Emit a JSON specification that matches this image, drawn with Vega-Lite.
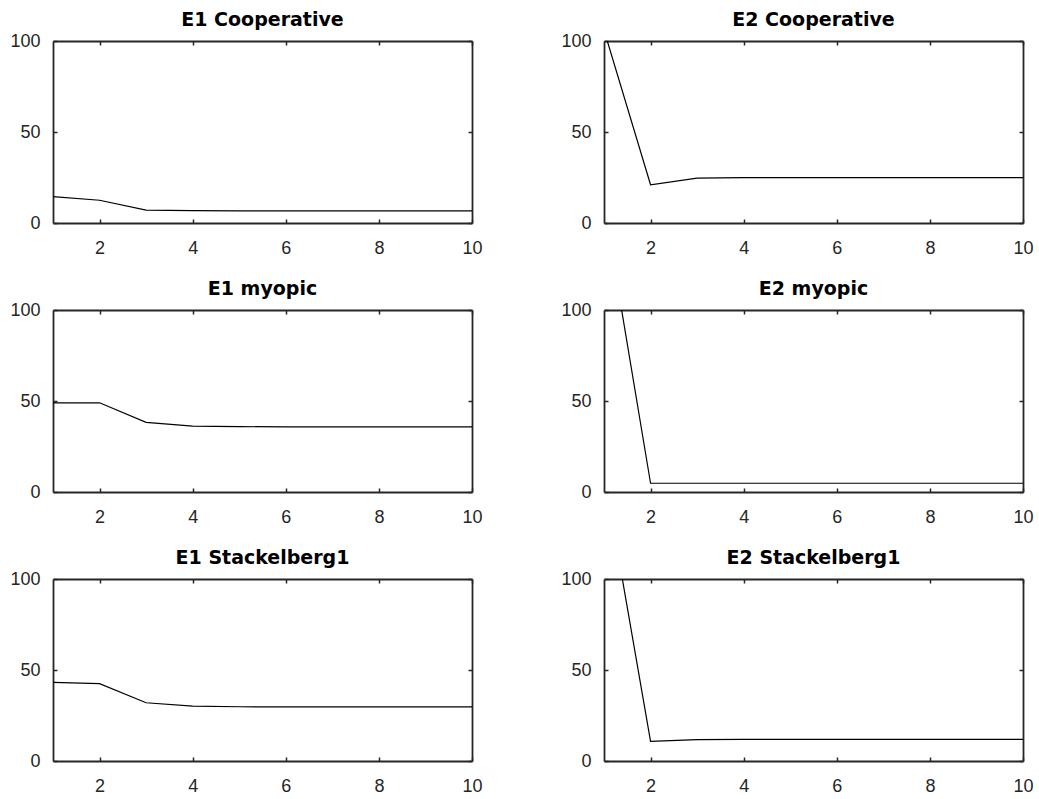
{
  "$schema": "https://vega.github.io/schema/vega-lite/v6.json",
  "background": "white",
  "padding": {"left": 9, "top": 11, "right": 5, "bottom": 5},
  "bounds": "flush",
  "spacing": {"row": 87, "column": 132},
  "columns": 2,
  "config": {
    "view": {"stroke": null},
    "font": "Liberation Sans",
    "axis": {
      "domainColor": "#262626",
      "domainWidth": 1.8,
      "tickColor": "#262626",
      "tickWidth": 1.5,
      "tickSize": -4,
      "grid": false,
      "title": null,
      "labelFont": "Liberation Sans",
      "labelFontSize": 18,
      "labelColor": "#262626",
      "labelFlush": false,
      "labelOverlap": false
    },
    "title": {"font": "DejaVu Sans", "fontSize": 19, "fontWeight": "bold", "color": "#000000", "offset": 2}
  },
  "data": {"values": [
    {"panel": "E1 Cooperative", "x": 1, "y": 14.5},
    {"panel": "E1 Cooperative", "x": 2, "y": 12.5},
    {"panel": "E1 Cooperative", "x": 3, "y": 7.1},
    {"panel": "E1 Cooperative", "x": 4, "y": 6.8},
    {"panel": "E1 Cooperative", "x": 5, "y": 6.7},
    {"panel": "E1 Cooperative", "x": 6, "y": 6.7},
    {"panel": "E1 Cooperative", "x": 7, "y": 6.7},
    {"panel": "E1 Cooperative", "x": 8, "y": 6.7},
    {"panel": "E1 Cooperative", "x": 9, "y": 6.7},
    {"panel": "E1 Cooperative", "x": 10, "y": 6.7},
    {"panel": "E2 Cooperative", "x": 1, "y": 106},
    {"panel": "E2 Cooperative", "x": 2, "y": 21},
    {"panel": "E2 Cooperative", "x": 3, "y": 24.7},
    {"panel": "E2 Cooperative", "x": 4, "y": 24.9},
    {"panel": "E2 Cooperative", "x": 5, "y": 24.9},
    {"panel": "E2 Cooperative", "x": 6, "y": 24.9},
    {"panel": "E2 Cooperative", "x": 7, "y": 24.9},
    {"panel": "E2 Cooperative", "x": 8, "y": 24.9},
    {"panel": "E2 Cooperative", "x": 9, "y": 24.9},
    {"panel": "E2 Cooperative", "x": 10, "y": 24.9},
    {"panel": "E1 myopic", "x": 1, "y": 49},
    {"panel": "E1 myopic", "x": 2, "y": 49},
    {"panel": "E1 myopic", "x": 3, "y": 38.3},
    {"panel": "E1 myopic", "x": 4, "y": 36.2},
    {"panel": "E1 myopic", "x": 5, "y": 35.9},
    {"panel": "E1 myopic", "x": 6, "y": 35.8},
    {"panel": "E1 myopic", "x": 7, "y": 35.8},
    {"panel": "E1 myopic", "x": 8, "y": 35.8},
    {"panel": "E1 myopic", "x": 9, "y": 35.8},
    {"panel": "E1 myopic", "x": 10, "y": 35.8},
    {"panel": "E2 myopic", "x": 1, "y": 158},
    {"panel": "E2 myopic", "x": 2, "y": 4.8},
    {"panel": "E2 myopic", "x": 3, "y": 4.8},
    {"panel": "E2 myopic", "x": 4, "y": 4.8},
    {"panel": "E2 myopic", "x": 5, "y": 4.8},
    {"panel": "E2 myopic", "x": 6, "y": 4.8},
    {"panel": "E2 myopic", "x": 7, "y": 4.8},
    {"panel": "E2 myopic", "x": 8, "y": 4.8},
    {"panel": "E2 myopic", "x": 9, "y": 4.8},
    {"panel": "E2 myopic", "x": 10, "y": 4.8},
    {"panel": "E1 Stackelberg1", "x": 1, "y": 43.2},
    {"panel": "E1 Stackelberg1", "x": 2, "y": 42.5},
    {"panel": "E1 Stackelberg1", "x": 3, "y": 32},
    {"panel": "E1 Stackelberg1", "x": 4, "y": 30.2},
    {"panel": "E1 Stackelberg1", "x": 5, "y": 29.8},
    {"panel": "E1 Stackelberg1", "x": 6, "y": 29.7},
    {"panel": "E1 Stackelberg1", "x": 7, "y": 29.7},
    {"panel": "E1 Stackelberg1", "x": 8, "y": 29.7},
    {"panel": "E1 Stackelberg1", "x": 9, "y": 29.7},
    {"panel": "E1 Stackelberg1", "x": 10, "y": 29.7},
    {"panel": "E2 Stackelberg1", "x": 1, "y": 158},
    {"panel": "E2 Stackelberg1", "x": 2, "y": 10.8},
    {"panel": "E2 Stackelberg1", "x": 3, "y": 11.7},
    {"panel": "E2 Stackelberg1", "x": 4, "y": 11.9},
    {"panel": "E2 Stackelberg1", "x": 5, "y": 11.9},
    {"panel": "E2 Stackelberg1", "x": 6, "y": 11.9},
    {"panel": "E2 Stackelberg1", "x": 7, "y": 11.9},
    {"panel": "E2 Stackelberg1", "x": 8, "y": 11.9},
    {"panel": "E2 Stackelberg1", "x": 9, "y": 11.9},
    {"panel": "E2 Stackelberg1", "x": 10, "y": 11.9}
  ]},
  "concat": [
    {"title": "E1 Cooperative", "width": 419, "height": 182, "transform": [{"filter": "datum.panel === 'E1 Cooperative'"}],
     "layer": [
      {"mark": {"type": "line", "color": "#000000", "strokeWidth": 1.2, "clip": true},
       "encoding": {"x": {"field": "x", "type": "quantitative", "scale": {"domain": [1, 10], "nice": false, "zero": false}, "axis": {"orient": "bottom", "values": [2, 4, 6, 8, 10], "labelPadding": 20}},
                    "y": {"field": "y", "type": "quantitative", "scale": {"domain": [0, 100], "nice": false}, "axis": {"orient": "left", "values": [0, 50, 100], "labelPadding": 17}}}},
      {"mark": {"type": "line", "opacity": 0, "clip": true},
       "encoding": {"x": {"field": "x", "type": "quantitative", "axis": {"orient": "top", "values": [2, 4, 6, 8, 10], "labels": false}},
                    "y": {"field": "y", "type": "quantitative", "axis": {"orient": "right", "values": [0, 50, 100], "labels": false}}}}
     ]},
    {"title": "E2 Cooperative", "width": 419, "height": 182, "transform": [{"filter": "datum.panel === 'E2 Cooperative'"}],
     "layer": [
      {"mark": {"type": "line", "color": "#000000", "strokeWidth": 1.2, "clip": true},
       "encoding": {"x": {"field": "x", "type": "quantitative", "scale": {"domain": [1, 10], "nice": false, "zero": false}, "axis": {"orient": "bottom", "values": [2, 4, 6, 8, 10], "labelPadding": 20}},
                    "y": {"field": "y", "type": "quantitative", "scale": {"domain": [0, 100], "nice": false}, "axis": {"orient": "left", "values": [0, 50, 100], "labelPadding": 17}}}},
      {"mark": {"type": "line", "opacity": 0, "clip": true},
       "encoding": {"x": {"field": "x", "type": "quantitative", "axis": {"orient": "top", "values": [2, 4, 6, 8, 10], "labels": false}},
                    "y": {"field": "y", "type": "quantitative", "axis": {"orient": "right", "values": [0, 50, 100], "labels": false}}}}
     ]},
    {"title": "E1 myopic", "width": 419, "height": 182, "transform": [{"filter": "datum.panel === 'E1 myopic'"}],
     "layer": [
      {"mark": {"type": "line", "color": "#000000", "strokeWidth": 1.2, "clip": true},
       "encoding": {"x": {"field": "x", "type": "quantitative", "scale": {"domain": [1, 10], "nice": false, "zero": false}, "axis": {"orient": "bottom", "values": [2, 4, 6, 8, 10], "labelPadding": 20}},
                    "y": {"field": "y", "type": "quantitative", "scale": {"domain": [0, 100], "nice": false}, "axis": {"orient": "left", "values": [0, 50, 100], "labelPadding": 17}}}},
      {"mark": {"type": "line", "opacity": 0, "clip": true},
       "encoding": {"x": {"field": "x", "type": "quantitative", "axis": {"orient": "top", "values": [2, 4, 6, 8, 10], "labels": false}},
                    "y": {"field": "y", "type": "quantitative", "axis": {"orient": "right", "values": [0, 50, 100], "labels": false}}}}
     ]},
    {"title": "E2 myopic", "width": 419, "height": 182, "transform": [{"filter": "datum.panel === 'E2 myopic'"}],
     "layer": [
      {"mark": {"type": "line", "color": "#000000", "strokeWidth": 1.2, "clip": true},
       "encoding": {"x": {"field": "x", "type": "quantitative", "scale": {"domain": [1, 10], "nice": false, "zero": false}, "axis": {"orient": "bottom", "values": [2, 4, 6, 8, 10], "labelPadding": 20}},
                    "y": {"field": "y", "type": "quantitative", "scale": {"domain": [0, 100], "nice": false}, "axis": {"orient": "left", "values": [0, 50, 100], "labelPadding": 17}}}},
      {"mark": {"type": "line", "opacity": 0, "clip": true},
       "encoding": {"x": {"field": "x", "type": "quantitative", "axis": {"orient": "top", "values": [2, 4, 6, 8, 10], "labels": false}},
                    "y": {"field": "y", "type": "quantitative", "axis": {"orient": "right", "values": [0, 50, 100], "labels": false}}}}
     ]},
    {"title": "E1 Stackelberg1", "width": 419, "height": 182, "transform": [{"filter": "datum.panel === 'E1 Stackelberg1'"}],
     "layer": [
      {"mark": {"type": "line", "color": "#000000", "strokeWidth": 1.2, "clip": true},
       "encoding": {"x": {"field": "x", "type": "quantitative", "scale": {"domain": [1, 10], "nice": false, "zero": false}, "axis": {"orient": "bottom", "values": [2, 4, 6, 8, 10], "labelPadding": 20}},
                    "y": {"field": "y", "type": "quantitative", "scale": {"domain": [0, 100], "nice": false}, "axis": {"orient": "left", "values": [0, 50, 100], "labelPadding": 17}}}},
      {"mark": {"type": "line", "opacity": 0, "clip": true},
       "encoding": {"x": {"field": "x", "type": "quantitative", "axis": {"orient": "top", "values": [2, 4, 6, 8, 10], "labels": false}},
                    "y": {"field": "y", "type": "quantitative", "axis": {"orient": "right", "values": [0, 50, 100], "labels": false}}}}
     ]},
    {"title": "E2 Stackelberg1", "width": 419, "height": 182, "transform": [{"filter": "datum.panel === 'E2 Stackelberg1'"}],
     "layer": [
      {"mark": {"type": "line", "color": "#000000", "strokeWidth": 1.2, "clip": true},
       "encoding": {"x": {"field": "x", "type": "quantitative", "scale": {"domain": [1, 10], "nice": false, "zero": false}, "axis": {"orient": "bottom", "values": [2, 4, 6, 8, 10], "labelPadding": 20}},
                    "y": {"field": "y", "type": "quantitative", "scale": {"domain": [0, 100], "nice": false}, "axis": {"orient": "left", "values": [0, 50, 100], "labelPadding": 17}}}},
      {"mark": {"type": "line", "opacity": 0, "clip": true},
       "encoding": {"x": {"field": "x", "type": "quantitative", "axis": {"orient": "top", "values": [2, 4, 6, 8, 10], "labels": false}},
                    "y": {"field": "y", "type": "quantitative", "axis": {"orient": "right", "values": [0, 50, 100], "labels": false}}}}
     ]}
  ]
}
